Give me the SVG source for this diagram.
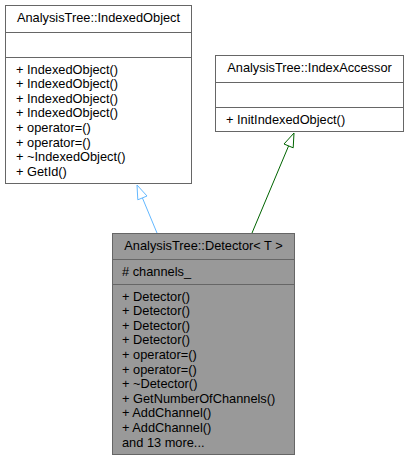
<svg xmlns="http://www.w3.org/2000/svg" width="411" height="463" viewBox="0 0 411 463">
<style>
  .box { fill: #ffffff; stroke: #666666; stroke-width: 1; }
  .focus { fill: #999999; stroke: #666666; stroke-width: 1; }
  .div { stroke: #666666; stroke-width: 1; fill: none; }
  text { font-family: "Liberation Sans", Arial, Helvetica, sans-serif; font-size: 12.8px; fill: #000000; }
  .t { text-anchor: middle; }
  .pub { stroke: #63b8ff; stroke-width: 1; fill: none; }
  .pubhead { stroke: #63b8ff; stroke-width: 1; fill: #ffffff; }
  .prot { stroke: #006400; stroke-width: 1; fill: none; }
  .prothead { stroke: #006400; stroke-width: 1; fill: #ffffff; }
</style>
<rect width="411" height="463" fill="#ffffff"/>
<g id="edges">
  <path class="pub" d="M157,233 L142.4,197.9"/>
  <polygon class="pubhead" points="137,185 147,196 137.8,199.8"/>
  <path class="prot" d="M252,233 L288.6,145.9"/>
  <polygon class="prothead" points="294,133 293.2,147.8 284,144"/>
</g>
<g id="node_IndexedObject">
  <rect class="box" x="5.5" y="5.5" width="186" height="178"/>
  <line class="div" x1="5.5" y1="32.5" x2="191.5" y2="32.5"/>
  <line class="div" x1="5.5" y1="57.5" x2="191.5" y2="57.5"/>
  <text class="t" x="98.5" y="22">AnalysisTree::IndexedObject</text>
  <text x="16" y="73.5">+ IndexedObject()</text>
  <text x="16" y="88.1">+ IndexedObject()</text>
  <text x="16" y="102.7">+ IndexedObject()</text>
  <text x="16" y="117.3">+ IndexedObject()</text>
  <text x="16" y="131.9">+ operator=()</text>
  <text x="16" y="146.5">+ operator=()</text>
  <text x="16" y="161.1">+ ~IndexedObject()</text>
  <text x="16" y="175.7">+ GetId()</text>
</g>
<g id="node_IndexAccessor">
  <rect class="box" x="215.5" y="55.5" width="188" height="76"/>
  <line class="div" x1="215.5" y1="82.5" x2="403.5" y2="82.5"/>
  <line class="div" x1="215.5" y1="107.5" x2="403.5" y2="107.5"/>
  <text class="t" x="309.5" y="72">AnalysisTree::IndexAccessor</text>
  <text x="226" y="123.5">+ InitIndexedObject()</text>
</g>
<g id="node_Detector">
  <rect class="focus" x="112.5" y="233.5" width="182" height="221"/>
  <line class="div" x1="112.5" y1="259.5" x2="294.5" y2="259.5"/>
  <line class="div" x1="112.5" y1="284.5" x2="294.5" y2="284.5"/>
  <text class="t" x="203.5" y="250">AnalysisTree::Detector&lt; T &gt;</text>
  <text x="122" y="275.5"># channels_</text>
  <text x="122" y="300.5">+ Detector()</text>
  <text x="122" y="315.1">+ Detector()</text>
  <text x="122" y="329.7">+ Detector()</text>
  <text x="122" y="344.3">+ Detector()</text>
  <text x="122" y="358.9">+ operator=()</text>
  <text x="122" y="373.5">+ operator=()</text>
  <text x="122" y="388.1">+ ~Detector()</text>
  <text x="122" y="402.7">+ GetNumberOfChannels()</text>
  <text x="122" y="417.3">+ AddChannel()</text>
  <text x="122" y="431.9">+ AddChannel()</text>
  <text x="122" y="446.5">and 13 more...</text>
</g>
</svg>
